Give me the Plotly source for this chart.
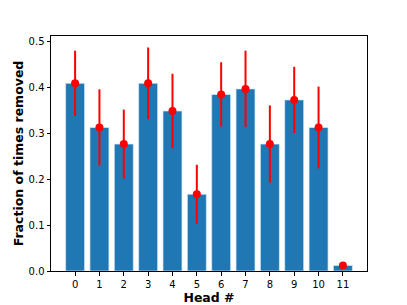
import plotly.graph_objects as go

heads = list(range(12))
fractions = [0.408, 0.312, 0.276, 0.408, 0.348, 0.167, 0.384, 0.396, 0.276, 0.372, 0.312, 0.012]
errors = [0.071, 0.083, 0.075, 0.078, 0.081, 0.064, 0.070, 0.083, 0.084, 0.072, 0.089, 0.004]
tick_labels = [str(h) for h in heads]

fig = go.Figure()
fig.add_trace(go.Bar(
    x=heads, y=fractions, width=0.78,
    marker=dict(color="#1f77b4", line=dict(color="rgba(220,235,250,0.7)", width=1)),
    showlegend=False,
))
fig.add_trace(go.Scatter(
    x=heads, y=fractions, mode="markers",
    marker=dict(color="red", size=8),
    error_y=dict(type="data", array=errors, color="red", thickness=2, width=0),
    showlegend=False,
))

# page body has an 8px margin, so the figure is sized/offset to compensate
fig.update_layout(
    width=399, height=297,
    margin=dict(l=43, r=40, t=28, b=34),
    plot_bgcolor="white", paper_bgcolor="white",
    font=dict(family="DejaVu Sans", size=10, color="black"),
    bargap=0.2,
)
fig.update_xaxes(
    range=[-0.99, 11.99], tickmode="array", tickvals=heads, ticktext=tick_labels,
    showgrid=False, zeroline=False, showline=True, linecolor="black", linewidth=1, mirror=True,
    ticks="outside", ticklen=3.5, tickcolor="black", automargin=False,
    title=dict(text="<b>Head #</b>", font=dict(size=12.5), standoff=0),
)
fig.update_yaxes(
    range=[0, 0.511], tickvals=[0, 0.1, 0.2, 0.3, 0.4, 0.5], tickformat=".1f",
    showgrid=False, zeroline=False, showline=True, linecolor="black", linewidth=1, mirror=True,
    ticks="outside", ticklen=3.5, tickcolor="black", automargin=False,
    title=dict(text="<b>Fraction of times removed</b>", font=dict(size=12.5), standoff=2),
)
fig.write_html("out.html")
